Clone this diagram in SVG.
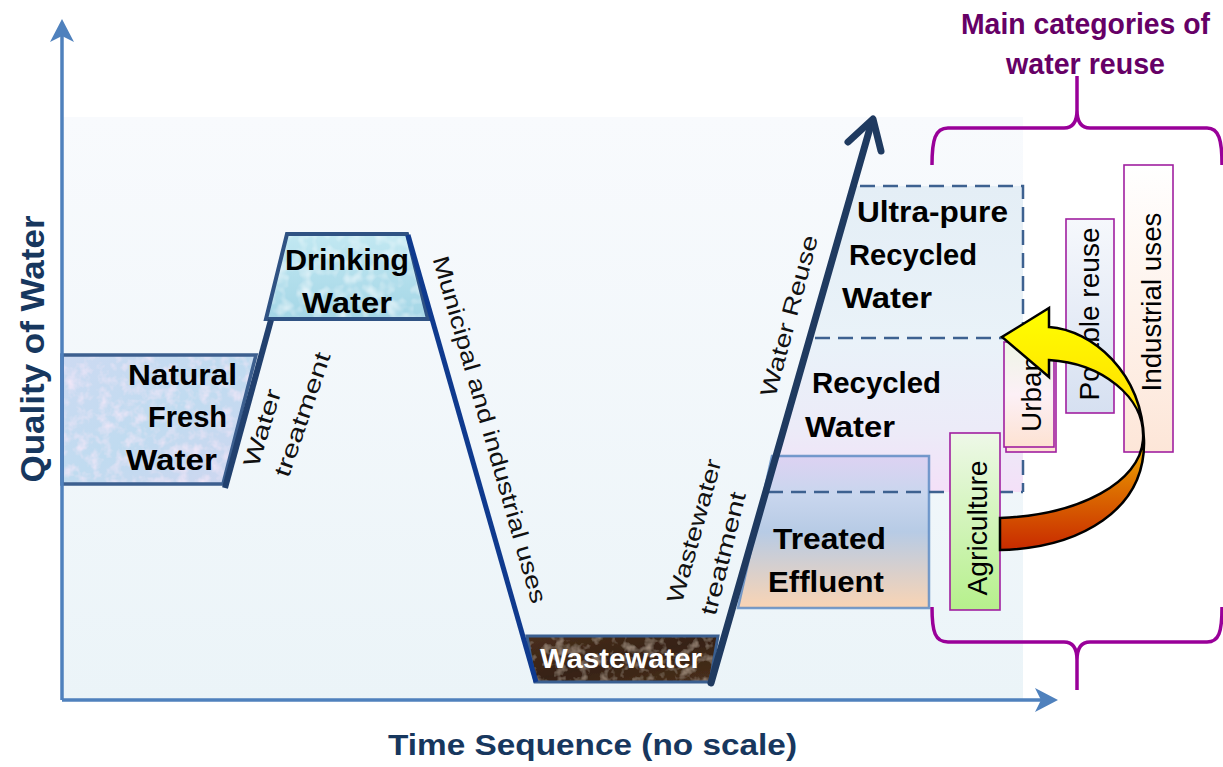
<svg xmlns="http://www.w3.org/2000/svg" width="1223" height="767" viewBox="0 0 1223 767">
<defs>
<style>
.lbl{font-family:"Liberation Sans",Arial,sans-serif;font-weight:bold;font-size:30px;fill:#000}
.hand{font-family:"Liberation Sans",Arial,sans-serif;font-size:23px;fill:#111}
.bar{font-family:"Liberation Sans",Arial,sans-serif;font-size:28px;fill:#000}
.axis{font-family:"Liberation Sans",Arial,sans-serif;font-weight:bold;fill:#17375e}
.title{font-family:"Liberation Sans",Arial,sans-serif;font-weight:bold;font-size:30px;fill:#660066}
.dash{fill:none;stroke:#3d6190;stroke-width:2.5;stroke-dasharray:15 8}
.barbox{stroke:#a020a0;stroke-width:1.6}
.brace{fill:none;stroke:#990099;stroke-width:3.5}
</style>
<linearGradient id="bg" x1="0" y1="0" x2="0" y2="1"><stop offset="0" stop-color="#f8fafd"/><stop offset="1" stop-color="#ebf4f8"/></linearGradient>
<linearGradient id="natural" x1="0" y1="0" x2="1" y2="1"><stop offset="0" stop-color="#cddaf2"/><stop offset="0.5" stop-color="#c0dbf0"/><stop offset="1" stop-color="#d0d6f0"/></linearGradient>
<linearGradient id="drink" x1="0" y1="0" x2="0" y2="1"><stop offset="0" stop-color="#c2e8f2"/><stop offset="1" stop-color="#a4d6e6"/></linearGradient>
<linearGradient id="waste" x1="0" y1="0" x2="1" y2="1"><stop offset="0" stop-color="#4a2f1d"/><stop offset="0.5" stop-color="#362213"/><stop offset="1" stop-color="#4a301c"/></linearGradient>
<linearGradient id="ultra" x1="0" y1="0" x2="0" y2="1"><stop offset="0" stop-color="#e4eef6"/><stop offset="1" stop-color="#e9f2f8"/></linearGradient>
<linearGradient id="recyc" x1="0" y1="0" x2="0" y2="1"><stop offset="0" stop-color="#e9f2f9"/><stop offset="0.6" stop-color="#ecebf8"/><stop offset="1" stop-color="#f4e0f8"/></linearGradient>
<linearGradient id="treated" x1="0" y1="0" x2="0" y2="1"><stop offset="0" stop-color="#ddd2f2"/><stop offset="0.25" stop-color="#c9d6ee"/><stop offset="0.5" stop-color="#b7cbe5"/><stop offset="1" stop-color="#f9d4b4"/></linearGradient>
<linearGradient id="agri" x1="0" y1="0" x2="0" y2="1"><stop offset="0" stop-color="#eef8e8"/><stop offset="1" stop-color="#b6f08c"/></linearGradient>
<linearGradient id="urban" x1="0" y1="0" x2="0" y2="1"><stop offset="0" stop-color="#eef5e6"/><stop offset="0.5" stop-color="#fcf0f6"/><stop offset="1" stop-color="#fde2d2"/></linearGradient>
<linearGradient id="potable" x1="0" y1="0" x2="0" y2="1"><stop offset="0" stop-color="#f6f8fc"/><stop offset="1" stop-color="#d6e0f1"/></linearGradient>
<linearGradient id="indus" x1="0" y1="0" x2="0" y2="1"><stop offset="0" stop-color="#ffffff"/><stop offset="1" stop-color="#fde6d8"/></linearGradient>
<linearGradient id="curve" gradientUnits="userSpaceOnUse" x1="0" y1="308" x2="0" y2="552"><stop offset="0" stop-color="#ffff00"/><stop offset="0.45" stop-color="#ffdc00"/><stop offset="0.7" stop-color="#e07a00"/><stop offset="1" stop-color="#c82800"/></linearGradient>
<filter id="pinkTex" x="0" y="0" width="1" height="1">
<feTurbulence type="fractalNoise" baseFrequency="0.09" numOctaves="3" seed="4" result="n"/>
<feColorMatrix in="n" type="matrix" values="0 0 0 0 0.95  0 0 0 0 0.82  0 0 0 0 0.95  0 0 0 1.6 -0.7" result="s"/>
<feComposite in="s" in2="SourceGraphic" operator="in" result="c"/>
<feMerge><feMergeNode in="SourceGraphic"/><feMergeNode in="c"/></feMerge>
</filter>
<filter id="dropTex" x="0" y="0" width="1" height="1">
<feTurbulence type="fractalNoise" baseFrequency="0.08" numOctaves="2" seed="9" result="n"/>
<feColorMatrix in="n" type="matrix" values="0 0 0 0 0.92  0 0 0 0 0.98  0 0 0 0 1  0 0 0 1.5 -0.65" result="s"/>
<feComposite in="s" in2="SourceGraphic" operator="in" result="c"/>
<feMerge><feMergeNode in="SourceGraphic"/><feMergeNode in="c"/></feMerge>
</filter>
<filter id="dirtTex" x="0" y="0" width="1" height="1">
<feTurbulence type="fractalNoise" baseFrequency="0.09" numOctaves="3" seed="2" result="n"/>
<feColorMatrix in="n" type="matrix" values="0 0 0 0 0.55  0 0 0 0 0.42  0 0 0 0 0.32  0 0 0 1.4 -0.68" result="s"/>
<feComposite in="s" in2="SourceGraphic" operator="in" result="c"/>
<feMerge><feMergeNode in="SourceGraphic"/><feMergeNode in="c"/></feMerge>
</filter>
</defs>

<rect width="1223" height="767" fill="#ffffff"/>
<rect id="panel" x="62" y="117" width="961" height="583" fill="url(#bg)"/>

<g id="zone-ultra">
<polygon points="853,186 1023,186 1023,338 810,338" fill="url(#ultra)"/>
</g>
<g id="zone-recycled">
<polygon points="810,338 1023,338 1023,492 765,492" fill="url(#recyc)"/>
</g>

<g id="node-natural">
<polygon points="62,355 256,355 223,484 62,484" fill="url(#natural)" filter="url(#pinkTex)"/>
<polygon points="62,355 256,355 223,484 62,484" fill="none" stroke="#3c5f8f" stroke-width="3.5"/>
<text class="lbl" x="128" y="385" textLength="109" lengthAdjust="spacingAndGlyphs">Natural</text>
<text class="lbl" x="148" y="427" textLength="79" lengthAdjust="spacingAndGlyphs">Fresh</text>
<text class="lbl" x="126" y="470" textLength="91" lengthAdjust="spacingAndGlyphs">Water</text>
</g>

<g id="node-drinking">
<polygon points="287,234 407,234 428,319 266,319" fill="url(#drink)" filter="url(#dropTex)"/>
<polygon points="287,234 407,234 428,319 266,319" fill="none" stroke="#2f5283" stroke-width="4"/>
<text class="lbl" x="285" y="270" textLength="124" lengthAdjust="spacingAndGlyphs">Drinking</text>
<text class="lbl" x="302" y="313" textLength="90" lengthAdjust="spacingAndGlyphs">Water</text>
</g>

<g id="node-wastewater">
<polygon points="527,636 718,636 710,682 535,682" fill="url(#waste)" filter="url(#dirtTex)"/>
<polygon points="527,636 718,636 710,682 535,682" fill="none" stroke="#3a5f90" stroke-width="3"/>
<text class="lbl" x="540" y="668" style="fill:#fff;font-size:28px" textLength="162" lengthAdjust="spacingAndGlyphs">Wastewater</text>
</g>

<g id="node-treated">
<polygon points="772,456 929,456 929,608 738,608" fill="url(#treated)" stroke="#5f8cc4" stroke-width="2.5" stroke-opacity="0.85"/>
<text class="lbl" x="773" y="549" textLength="113" lengthAdjust="spacingAndGlyphs">Treated</text>
<text class="lbl" x="768" y="592" textLength="116" lengthAdjust="spacingAndGlyphs">Effluent</text>
</g>

<g id="zone-lines">
<path class="dash" d="M860,186 H1023 V492"/>
<path class="dash" d="M815,338 H1003"/>
<path class="dash" d="M768,492 H1023"/>
</g>

<g id="node-recycled">
<text class="lbl" x="812" y="393" textLength="129" lengthAdjust="spacingAndGlyphs">Recycled</text>
<text class="lbl" x="805" y="437" textLength="90" lengthAdjust="spacingAndGlyphs">Water</text>
</g>

<g id="node-ultrapure">
<text class="lbl" x="857" y="222" textLength="151" lengthAdjust="spacingAndGlyphs">Ultra-pure</text>
<text class="lbl" x="849" y="265" textLength="128" lengthAdjust="spacingAndGlyphs">Recycled</text>
<text class="lbl" x="842" y="308" textLength="90" lengthAdjust="spacingAndGlyphs">Water</text>
</g>

<g id="axes">
<line x1="62" y1="700" x2="62" y2="30" stroke="#4f81bd" stroke-width="3.5"/>
<path d="M62,19 L74,42 L62,36 L50,42 Z" fill="#4f81bd"/>
<line x1="62" y1="700" x2="1046" y2="700" stroke="#4f81bd" stroke-width="3.5"/>
<path d="M1058,700 L1035,712 L1041,700 L1035,688 Z" fill="#4f81bd"/>
<text class="axis" transform="translate(44,349) rotate(-90)" text-anchor="middle" style="font-size:34px" textLength="267" lengthAdjust="spacingAndGlyphs">Quality of Water</text>
<text class="axis" x="388" y="755" style="font-size:30px" textLength="409" lengthAdjust="spacingAndGlyphs">Time Sequence (no scale)</text>
</g>

<g id="connectors">
<line id="c-water-treatment" x1="225" y1="488" x2="271" y2="320" stroke="#21406e" stroke-width="6"/>
<line id="c-municipal" x1="408" y1="235" x2="536" y2="682" stroke="#0f3a8e" stroke-width="5"/>
<line id="c-reuse" x1="711" y1="683" x2="872" y2="121" stroke="#1f3a60" stroke-width="7" stroke-linecap="round"/>
<polyline points="848,142 873,119 881,151" fill="none" stroke="#1f3a60" stroke-width="7" stroke-linecap="round" stroke-linejoin="round"/>
<text class="hand" transform="translate(263,428) rotate(-73)" y="7" text-anchor="middle" textLength="80" lengthAdjust="spacingAndGlyphs">Water</text>
<text class="hand" transform="translate(304,415) rotate(-71)" y="6" text-anchor="middle" textLength="130" lengthAdjust="spacingAndGlyphs">treatment</text>
<text class="hand" transform="translate(488,430) rotate(74)" y="6" text-anchor="middle" textLength="360" lengthAdjust="spacingAndGlyphs">Municipal and industrial uses</text>
<text class="hand" transform="translate(695,531) rotate(-74.4)" y="7" text-anchor="middle" textLength="148" lengthAdjust="spacingAndGlyphs">Wastewater</text>
<text class="hand" transform="translate(725,554) rotate(-76)" y="6" text-anchor="middle" textLength="126" lengthAdjust="spacingAndGlyphs">treatment</text>
<text class="hand" transform="translate(790,316) rotate(-75)" y="7" text-anchor="middle" textLength="166" lengthAdjust="spacingAndGlyphs">Water Reuse</text>
</g>

<g id="node-agriculture">
<rect class="barbox" x="950" y="433" width="50" height="177" fill="url(#agri)"/>
<text class="bar" transform="translate(987,528) rotate(-90)" text-anchor="middle" textLength="135" lengthAdjust="spacingAndGlyphs">Agriculture</text>
</g>

<g id="node-urban">
<rect class="barbox" x="1006" y="346" width="50" height="106" fill="url(#urban)"/>
<rect class="barbox" x="1004" y="342" width="50" height="105" fill="url(#urban)"/>
<text class="bar" transform="translate(1041,394) rotate(-90)" text-anchor="middle" textLength="76" lengthAdjust="spacingAndGlyphs">Urban</text>
</g>

<g id="node-potable">
<rect class="barbox" x="1066" y="219" width="48" height="194" fill="url(#potable)"/>
<text class="bar" transform="translate(1099,314) rotate(-90)" text-anchor="middle" textLength="173" lengthAdjust="spacingAndGlyphs">Potable reuse</text>
</g>

<g id="node-industrial">
<rect class="barbox" x="1124" y="165" width="49" height="287" fill="url(#indus)"/>
<text class="bar" transform="translate(1161,302) rotate(-90)" text-anchor="middle" textLength="179" lengthAdjust="spacingAndGlyphs">Industrial uses</text>
</g>

<g id="connector-curved">
<path d="M1000,518 C1080,515 1140,482 1143,440 C1146,396 1100,363 1049,360 L1049,377 L1002,337 L1049,308 L1049,327 C1092,330 1142,372 1144,440 C1146,510 1080,548 1000,550 Z" fill="url(#curve)" stroke="#000" stroke-width="2.5" stroke-linejoin="miter"/>
</g>

<g id="categories">
<path class="brace" d="M932,165 C932,140 935,128 948,128 L1064,128 C1073,128 1077,122 1077,110 L1077,76 L1077,110 C1077,122 1081,128 1090,128 L1207,128 C1219,128 1222,140 1222,165"/>
<path class="brace" d="M932,607 C932,632 935,642 948,642 L1064,642 C1073,642 1077,648 1077,660 L1077,690 L1077,660 C1077,648 1081,642 1090,642 L1207,642 C1219,642 1222,632 1222,607"/>
<text class="title" x="961" y="34" textLength="249" lengthAdjust="spacingAndGlyphs">Main categories of</text>
<text class="title" x="1006" y="74" textLength="159" lengthAdjust="spacingAndGlyphs">water reuse</text>
</g>
</svg>
